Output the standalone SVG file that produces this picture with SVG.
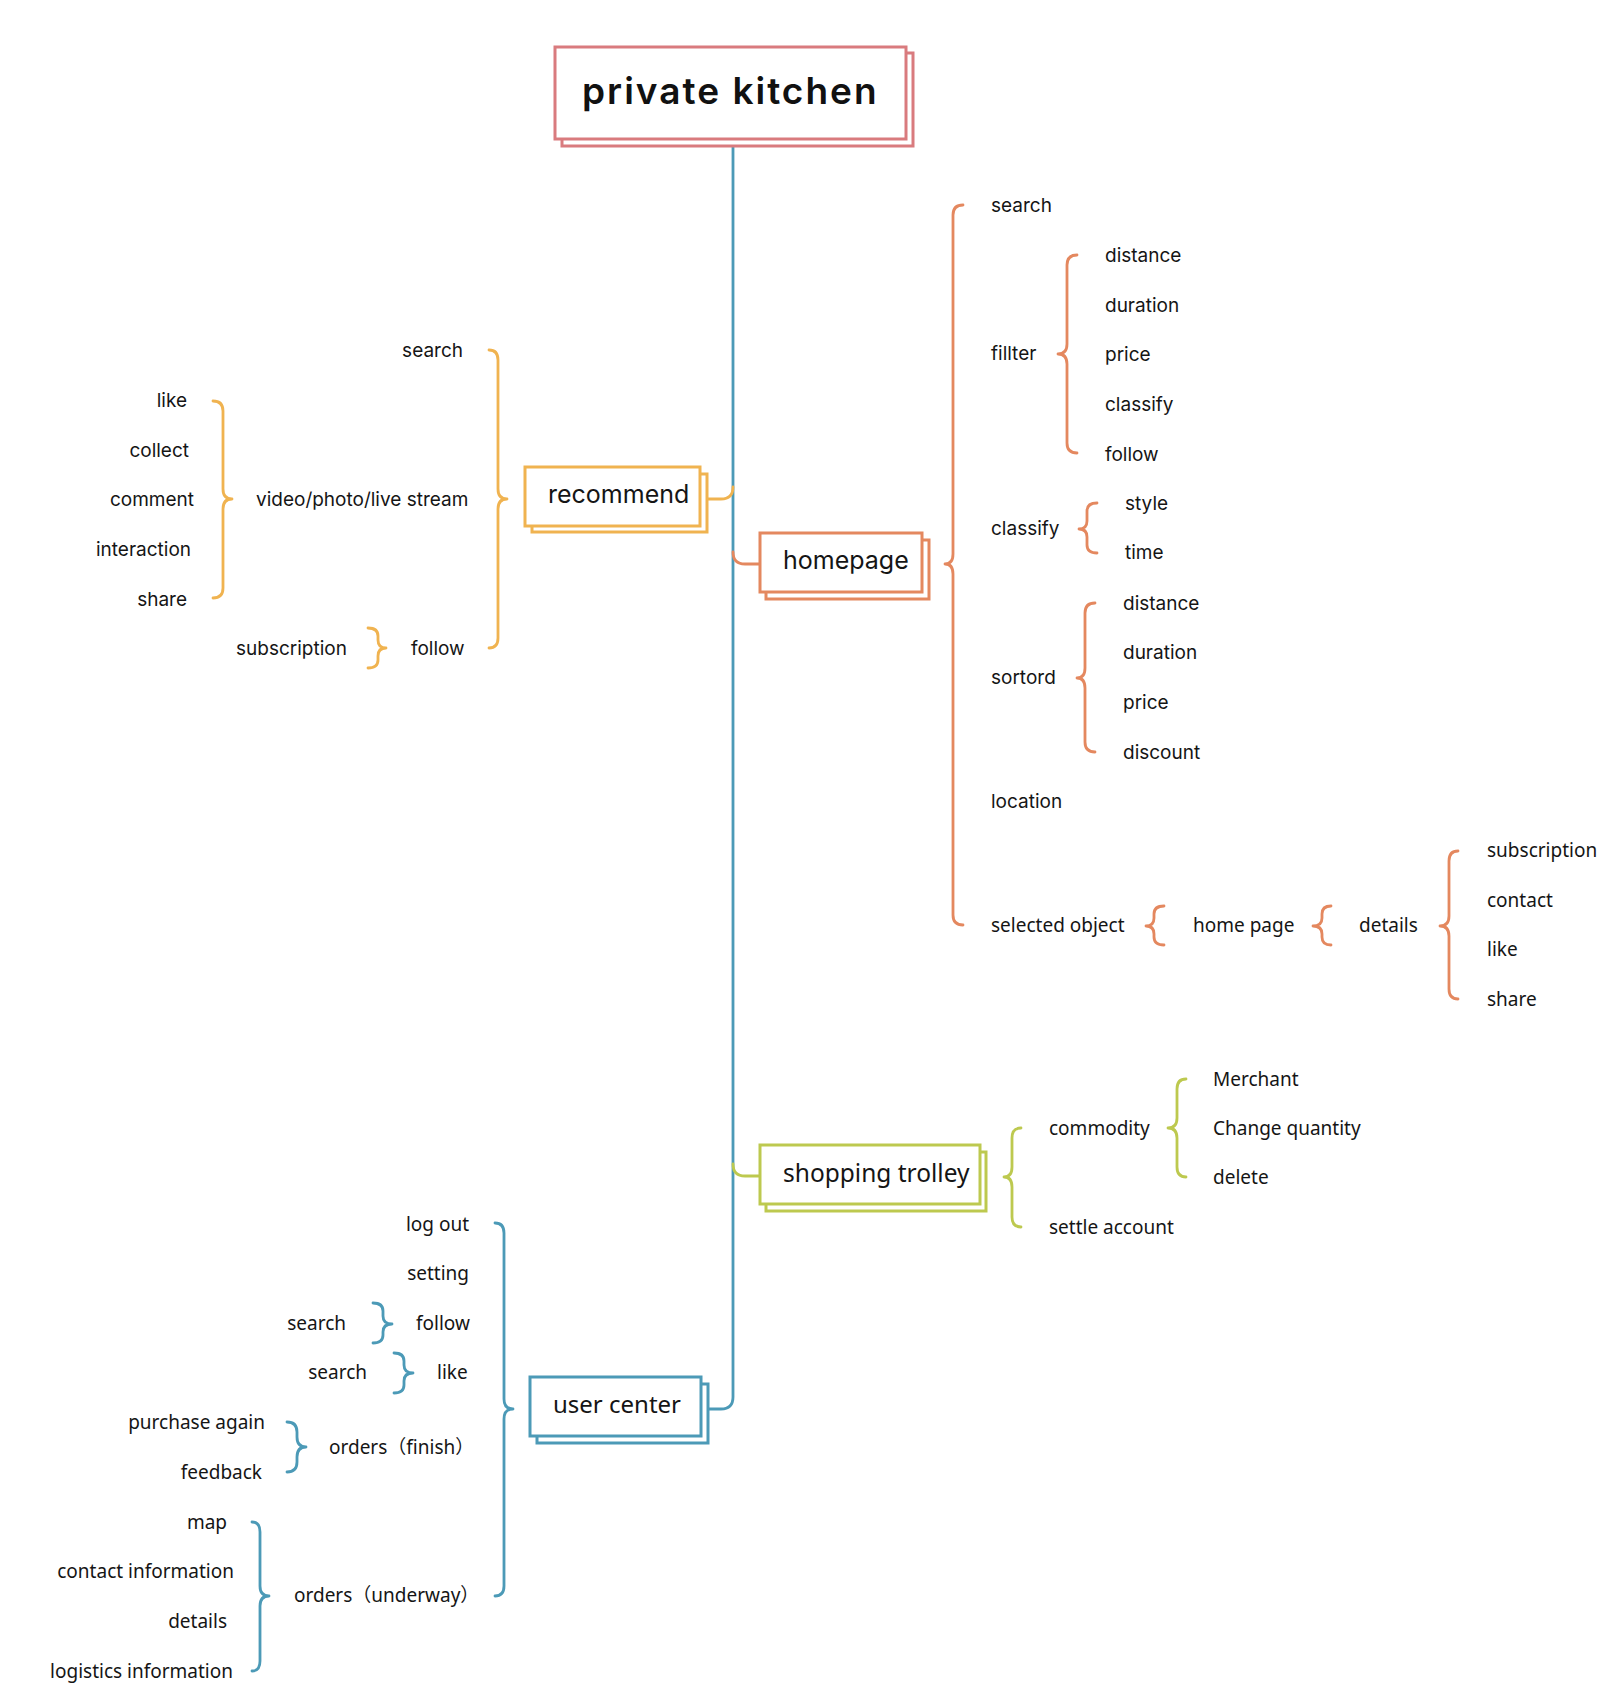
<svg xmlns="http://www.w3.org/2000/svg" width="1620" height="1707" viewBox="0 0 1620 1707">
<style>
.bg{fill:#fff}
.m{font-family:Inter,"Open Sans","Noto Sans",sans-serif;font-size:19px;fill:#151515}
.s{font-family:"Noto Sans","Open Sans","Noto Sans CJK SC",sans-serif;font-size:19px;fill:#151515}
.e{text-anchor:end}
.br{fill:none;stroke-width:2.8;stroke-linecap:round;stroke-linejoin:round}
.y{stroke:#F0B350}.o{stroke:#E4885F}.g{stroke:#BDC94F}.b{stroke:#4C9AB7}.r{stroke:#D97B7E}
.box{fill:#fff;stroke-width:3}
.bt{font-family:Inter,"Open Sans",sans-serif;font-size:25px;fill:#151515}
.bs{font-family:"Noto Sans","Open Sans",sans-serif;font-size:24px;fill:#151515}
</style>
<rect class="bg" x="0" y="0" width="1620" height="1707"/>
<g id="connectors">
<path class="br b" d="M733,146 L733,1397 Q733,1409 721,1409 L708,1409"/>
<path class="br y" d="M733,487 Q733,499 721,499 L707,499"/>
<path class="br o" d="M733,552 Q733,564 745,564 L760,564"/>
<path class="br g" d="M733,1164 Q733,1176 745,1176 L760,1176"/>
<path class="br o" d="M963,205 Q953,205 953,215 L953,554 Q953,564 945,564 Q953,564 953,574 L953,915 Q953,925 963,925"/>
<path class="br o" d="M1077,255 Q1067,255 1067,265 L1067,344 Q1067,354 1058,354 Q1067,354 1067,364 L1067,443 Q1067,453 1077,453"/>
<path class="br o" d="M1097,503 Q1087,503 1087,511 L1087,521 Q1087,529 1079,529 Q1087,529 1087,537 L1087,545 Q1087,553 1097,553"/>
<path class="br o" d="M1095,603 Q1085,603 1085,613 L1085,668 Q1085,678 1077,678 Q1085,678 1085,688 L1085,742 Q1085,752 1095,752"/>
<path class="br o" d="M1164,906 Q1154,906 1154,914 L1154,918 Q1154,926 1146,926 Q1154,926 1154,934 L1154,937 Q1154,945 1164,945"/>
<path class="br o" d="M1331,906 Q1322,906 1322,914 L1322,918 Q1322,926 1313,926 Q1322,926 1322,934 L1322,937 Q1322,945 1331,945"/>
<path class="br o" d="M1458,851 Q1449,851 1449,861 L1449,916 Q1449,926 1440,926 Q1449,926 1449,936 L1449,989 Q1449,999 1458,999"/>
<path class="br g" d="M1021,1128 Q1012,1128 1012,1138 L1012,1167 Q1012,1177 1004,1177 Q1012,1177 1012,1187 L1012,1217 Q1012,1227 1021,1227"/>
<path class="br g" d="M1186,1079 Q1177,1079 1177,1089 L1177,1118 Q1177,1128 1168,1128 Q1177,1128 1177,1138 L1177,1167 Q1177,1177 1186,1177"/>
<path class="br y" d="M489,350 Q498,350 498,360 L498,489 Q498,499 507,499 Q498,499 498,509 L498,638 Q498,648 489,648"/>
<path class="br y" d="M213,401 Q223,401 223,411 L223,489 Q223,499 232,499 Q223,499 223,509 L223,588 Q223,598 213,598"/>
<path class="br y" d="M368,628 Q378,628 378,636 L378,640 Q378,648 386,648 Q378,648 378,656 L378,660 Q378,668 368,668"/>
<path class="br b" d="M495,1223 Q504,1223 504,1233 L504,1399 Q504,1409 513,1409 Q504,1409 504,1419 L504,1586 Q504,1596 495,1596"/>
<path class="br b" d="M373,1303 Q383,1303 383,1311 L383,1316 Q383,1324 392,1324 Q383,1324 383,1332 L383,1335 Q383,1343 373,1343"/>
<path class="br b" d="M394,1353 Q404,1353 404,1361 L404,1365 Q404,1373 413,1373 Q404,1373 404,1381 L404,1385 Q404,1393 394,1393"/>
<path class="br b" d="M287,1422 Q297,1422 297,1432 L297,1437 Q297,1447 306,1447 Q297,1447 297,1457 L297,1462 Q297,1472 287,1472"/>
<path class="br b" d="M252,1522 Q260,1522 260,1532 L260,1586 Q260,1596 269,1596 Q260,1596 260,1606 L260,1661 Q260,1671 252,1671"/>
</g>
<g id="root">
<rect class="box r" x="562" y="53" width="351" height="93"/>
<rect class="box r" x="555" y="47" width="351" height="92"/>
<text x="582" y="104" style="font-family:Inter,'Open Sans',sans-serif;font-size:37px;font-weight:600;letter-spacing:2px;fill:#111">private kitchen</text>
</g>
<g id="recommend">
<rect class="box y" x="532" y="474" width="175" height="58"/>
<rect class="box y" x="525" y="467" width="175" height="59"/>
<text class="bt" x="548" y="503">recommend</text>
</g>
<g id="homepage">
<rect class="box o" x="766" y="540" width="163" height="59"/>
<rect class="box o" x="760" y="533" width="162" height="59"/>
<text class="bt" x="783" y="569">homepage</text>
</g>
<g id="shopping-trolley">
<rect class="box g" x="766" y="1152" width="220" height="59"/>
<rect class="box g" x="760" y="1145" width="220" height="59"/>
<text class="bs" x="783" y="1182" style="font-size:24.5px">shopping trolley</text>
</g>
<g id="user-center">
<rect class="box b" x="537" y="1384" width="171" height="59"/>
<rect class="box b" x="530" y="1377" width="171" height="59"/>
<text class="bs" x="553" y="1413">user center</text>
</g>
<g id="recommend-items">
<text class="m e" x="463" y="357">search</text>
<text class="m e" x="187" y="407">like</text>
<text class="m e" x="189" y="457">collect</text>
<text class="m e" x="194" y="506">comment</text>
<text class="m e" x="191" y="556">interaction</text>
<text class="m e" x="187" y="606">share</text>
<text class="m" x="256" y="506">video/photo/live stream</text>
<text class="m" x="236" y="655">subscription</text>
<text class="m" x="411" y="655">follow</text>
</g>
<g id="homepage-items">
<text class="m" x="991" y="212">search</text>
<text class="m" x="991" y="360">fillter</text>
<text class="m" x="1105" y="262">distance</text>
<text class="m" x="1105" y="312">duration</text>
<text class="m" x="1105" y="361">price</text>
<text class="m" x="1105" y="411">classify</text>
<text class="m" x="1105" y="461">follow</text>
<text class="m" x="991" y="535">classify</text>
<text class="m" x="1125" y="510">style</text>
<text class="m" x="1125" y="559">time</text>
<text class="m" x="991" y="684">sortord</text>
<text class="m" x="1123" y="610">distance</text>
<text class="m" x="1123" y="659">duration</text>
<text class="m" x="1123" y="709">price</text>
<text class="m" x="1123" y="759">discount</text>
<text class="m" x="991" y="808">location</text>
<text class="s" x="991" y="932">selected object</text>
<text class="s" x="1193" y="932">home page</text>
<text class="s" x="1359" y="932">details</text>
<text class="s" x="1487" y="857">subscription</text>
<text class="s" x="1487" y="907">contact</text>
<text class="s" x="1487" y="956">like</text>
<text class="s" x="1487" y="1006">share</text>
</g>
<g id="trolley-items">
<text class="s" x="1049" y="1135">commodity</text>
<text class="s" x="1049" y="1234">settle account</text>
<text class="s" x="1213" y="1086">Merchant</text>
<text class="s" x="1213" y="1135">Change quantity</text>
<text class="s" x="1213" y="1184">delete</text>
</g>
<g id="user-items">
<text class="s e" x="469" y="1231">log out</text>
<text class="s e" x="469" y="1280">setting</text>
<text class="s e" x="346" y="1330">search</text>
<text class="s" x="416" y="1330">follow</text>
<text class="s e" x="367" y="1379">search</text>
<text class="s" x="437" y="1379">like</text>
<text class="s e" x="265" y="1429">purchase again</text>
<text class="s e" x="262" y="1479">feedback</text>
<text class="s" x="329" y="1454">orders（finish）</text>
<text class="s e" x="227" y="1529">map</text>
<text class="s e" x="234" y="1578">contact information</text>
<text class="s e" x="227" y="1628">details</text>
<text class="s e" x="233" y="1678">logistics information</text>
<text class="s" x="294" y="1602">orders（underway）</text>
</g>
</svg>
